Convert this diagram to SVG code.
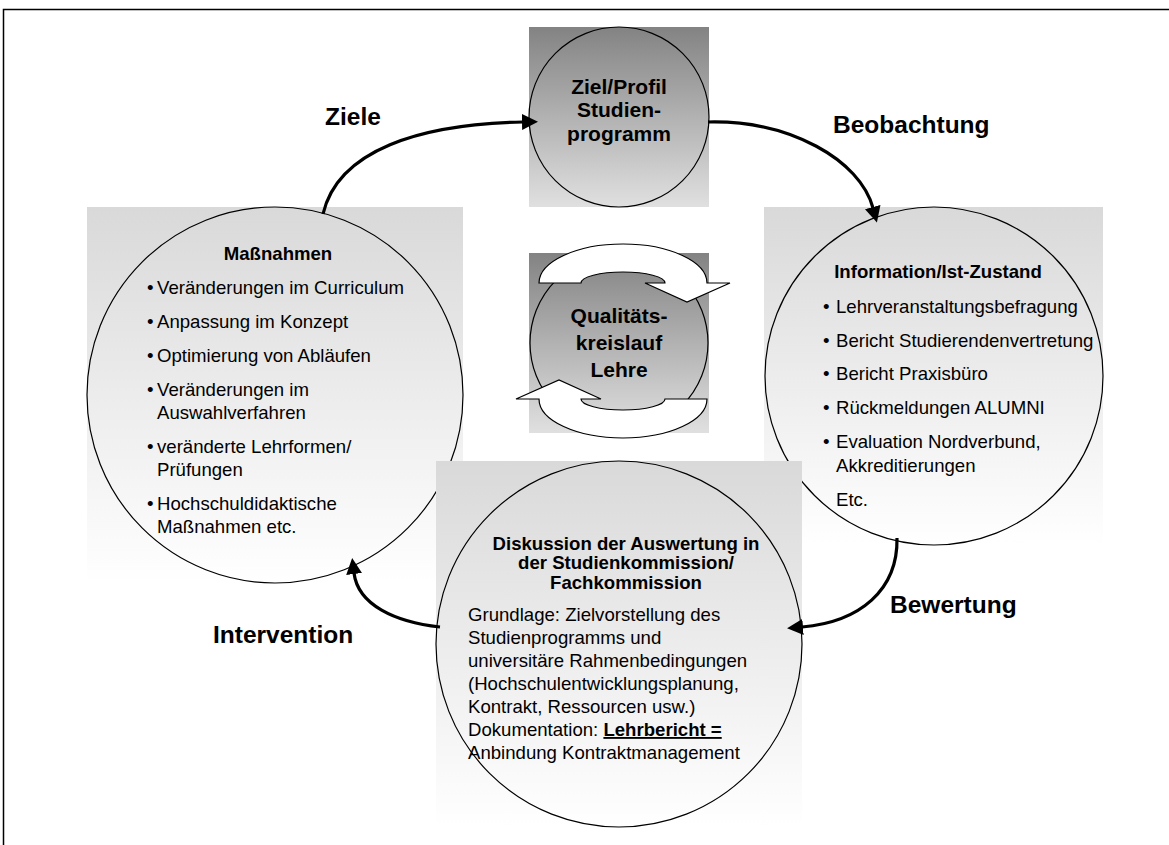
<svg xmlns="http://www.w3.org/2000/svg" width="1169" height="845" viewBox="0 0 1169 845">
<style>
.lbl{font-family:"Liberation Sans",Arial,sans-serif;font-weight:bold;font-size:24.5px;fill:#000}
.big{font-family:"Liberation Sans",Arial,sans-serif;font-weight:bold;font-size:21px;fill:#000;text-anchor:middle}
.hd{font-family:"Liberation Sans",Arial,sans-serif;font-weight:bold;font-size:18.6px;fill:#000}
.tx{font-family:"Liberation Sans",Arial,sans-serif;font-size:18.6px;fill:#000}
.mid{text-anchor:middle}
.ring{stroke:#000;stroke-width:1.2}
.conn{fill:none;stroke:#000;stroke-width:3.2;marker-end:url(#ah)}
.cyc{fill:#fff;stroke:#000;stroke-width:1.2}
</style>
<defs>
<linearGradient id="gDark" x1="0" y1="0" x2="0" y2="1"><stop offset="0" stop-color="#838383"/><stop offset="1" stop-color="#e0e0e0"/></linearGradient>
<linearGradient id="gLight" x1="0" y1="0" x2="0" y2="1"><stop offset="0" stop-color="#d9d9d9"/><stop offset="1" stop-color="#ffffff"/></linearGradient>
<marker id="ah" viewBox="0 0 16 16" refX="1" refY="8" markerWidth="16" markerHeight="16" markerUnits="userSpaceOnUse" orient="auto"><path d="M0,0 L16,8 L0,16 Z" fill="#000"/></marker>
</defs>
<rect width="1169" height="845" fill="#fff"/>
<path d="M3.5 845 V9.5 H1169" fill="none" stroke="#000" stroke-width="1.5"/>

<g id="node-massnahmen">
<rect x="87" y="207" width="376" height="377" fill="url(#gLight)"/>
<circle cx="275" cy="395" r="188" fill="url(#gLight)" class="ring"/>
<text class="hd mid" x="278" y="260">Maßnahmen</text>
<text class="tx" x="147" y="294">•</text><text class="tx" x="157" y="294">Veränderungen im Curriculum</text>
<text class="tx" x="147" y="328">•</text><text class="tx" x="157" y="328">Anpassung im Konzept</text>
<text class="tx" x="147" y="362">•</text><text class="tx" x="157" y="362">Optimierung von Abläufen</text>
<text class="tx" x="147" y="396">•</text><text class="tx" x="157" y="396">Veränderungen im</text>
<text class="tx" x="157" y="419">Auswahlverfahren</text>
<text class="tx" x="147" y="453">•</text><text class="tx" x="157" y="453">veränderte Lehrformen/</text>
<text class="tx" x="157" y="476">Prüfungen</text>
<text class="tx" x="147" y="510">•</text><text class="tx" x="157" y="510">Hochschuldidaktische</text>
<text class="tx" x="157" y="533">Maßnahmen etc.</text>
</g>

<g id="node-information">
<rect x="764" y="207" width="339" height="339" fill="url(#gLight)"/>
<circle cx="934" cy="376" r="169" fill="url(#gLight)" class="ring"/>
<text class="hd mid" x="938" y="278">Information/Ist-Zustand</text>
<text class="tx" x="823" y="313">•</text><text class="tx" x="836" y="313">Lehrveranstaltungsbefragung</text>
<text class="tx" x="823" y="347">•</text><text class="tx" x="836" y="347">Bericht Studierendenvertretung</text>
<text class="tx" x="823" y="380">•</text><text class="tx" x="836" y="380">Bericht Praxisbüro</text>
<text class="tx" x="823" y="414">•</text><text class="tx" x="836" y="414">Rückmeldungen ALUMNI</text>
<text class="tx" x="823" y="448">•</text><text class="tx" x="836" y="448">Evaluation Nordverbund,</text>
<text class="tx" x="836" y="472">Akkreditierungen</text>
<text class="tx" x="836" y="506">Etc.</text>
</g>

<g id="node-diskussion">
<rect x="436" y="461" width="366" height="366" fill="url(#gLight)"/>
<circle cx="619" cy="644" r="183" fill="url(#gLight)" class="ring"/>
<text class="hd mid" x="626" y="550">Diskussion der Auswertung in</text>
<text class="hd mid" x="626" y="569">der Studienkommission/</text>
<text class="hd mid" x="626" y="589">Fachkommission</text>
<text class="tx" x="468" y="621">Grundlage: Zielvorstellung des</text>
<text class="tx" x="468" y="644">Studienprogramms und</text>
<text class="tx" x="468" y="667">universitäre Rahmenbedingungen</text>
<text class="tx" x="468" y="690">(Hochschulentwicklungsplanung,</text>
<text class="tx" x="468" y="713">Kontrakt, Ressourcen usw.)</text>
<text class="tx" x="468" y="736">Dokumentation: <tspan font-weight="bold" text-decoration="underline">Lehrbericht =</tspan></text>
<text class="tx" x="468" y="759">Anbindung Kontraktmanagement</text>
</g>

<g id="node-ziel">
<rect x="529" y="27" width="180" height="180" fill="url(#gDark)"/>
<circle cx="619" cy="117" r="90" fill="url(#gDark)" class="ring"/>
<text class="big" x="619" y="94">Ziel/Profil</text>
<text class="big" x="619" y="117">Studien-</text>
<text class="big" x="619" y="141">programm</text>
</g>

<g id="node-kreislauf">
<rect x="529" y="253" width="180" height="180" fill="url(#gDark)"/>
<circle cx="619" cy="343" r="89" fill="url(#gDark)" class="ring"/>
<path class="cyc" d="M539 283 A84 39 0 0 1 707 283 L730 283 L687 302 L645 283 L665 283 A42 11 0 0 0 581 283 Z"/>
<path class="cyc" transform="rotate(180 623 341)" d="M539 283 A84 39 0 0 1 707 283 L730 283 L687 302 L645 283 L665 283 A42 11 0 0 0 581 283 Z"/>
<text class="big" x="619" y="323" font-size="21.5">Qualitäts-</text>
<text class="big" x="619" y="350" font-size="21.5">kreislauf</text>
<text class="big" x="619" y="377" font-size="21.5">Lehre</text>
</g>

<g id="connectors">
<path class="conn" d="M323 214 C338 150 420 124 523 122"/>
<path class="conn" d="M708 122 C790 120 860 160 873 208"/>
<path class="conn" d="M897 538 C898 590 860 622 802 627"/>
<path class="conn" d="M440 627 C395 622 358 605 354 573"/>
<text class="lbl" x="325" y="125">Ziele</text>
<text class="lbl" x="833" y="133">Beobachtung</text>
<text class="lbl" x="890" y="613">Bewertung</text>
<text class="lbl" x="213" y="643">Intervention</text>
</g>
</svg>
